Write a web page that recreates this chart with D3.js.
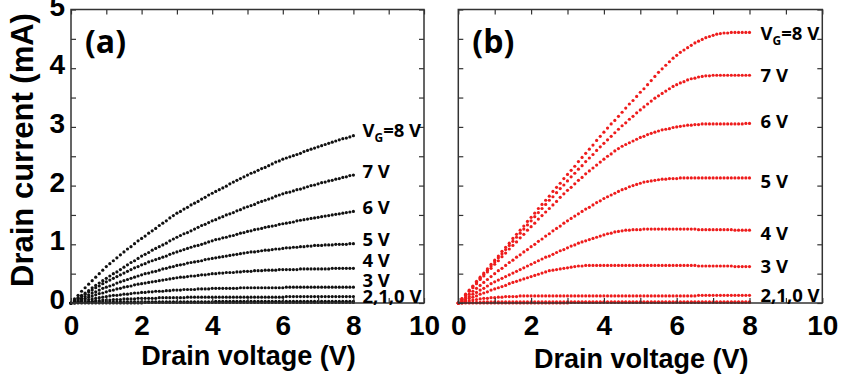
<!DOCTYPE html>
<html>
<head>
<meta charset="utf-8">
<script src="https://cdn.jsdelivr.net/npm/d3@7"></script>
<style>
  body { margin: 0; background: #fff; }
  svg { display: block; }
</style>
</head>
<body>
<svg id="chart" width="842" height="384"></svg>
<script>
// drain voltage sweep (V)
const drainV = [0, 0.1, 0.2, 0.3, 0.4, 0.5, 0.6, 0.7, 0.8, 0.9, 1,
  1.1, 1.2, 1.3, 1.4, 1.5, 1.6, 1.7, 1.8, 1.9, 2,
  2.1, 2.2, 2.3, 2.4, 2.5, 2.6, 2.7, 2.8, 2.9, 3,
  3.1, 3.2, 3.3, 3.4, 3.5, 3.6, 3.7, 3.8, 3.9, 4,
  4.1, 4.2, 4.3, 4.4, 4.5, 4.6, 4.7, 4.8, 4.9, 5,
  5.1, 5.2, 5.3, 5.4, 5.5, 5.6, 5.7, 5.8, 5.9, 6,
  6.1, 6.2, 6.3, 6.4, 6.5, 6.6, 6.7, 6.8, 6.9, 7,
  7.1, 7.2, 7.3, 7.4, 7.5, 7.6, 7.7, 7.8, 7.9, 8];

// panel (a) drain current (mA), one list per gate voltage
const a8 = [0, 0.07, 0.13, 0.20, 0.26, 0.32, 0.38, 0.44, 0.50, 0.56, 0.62,
  0.67, 0.72, 0.77, 0.82, 0.87, 0.92, 0.96, 1.01, 1.06, 1.10,
  1.14, 1.19, 1.23, 1.27, 1.32, 1.36, 1.40, 1.45, 1.49, 1.53,
  1.56, 1.60, 1.63, 1.67, 1.70, 1.73, 1.77, 1.80, 1.84, 1.87,
  1.90, 1.93, 1.96, 1.99, 2.03, 2.06, 2.09, 2.12, 2.15, 2.18,
  2.21, 2.23, 2.26, 2.29, 2.31, 2.34, 2.37, 2.40, 2.42, 2.45,
  2.47, 2.49, 2.51, 2.53, 2.55, 2.58, 2.60, 2.62, 2.64, 2.66,
  2.68, 2.70, 2.72, 2.74, 2.76, 2.78, 2.80, 2.81, 2.83, 2.85];
const a7 = [0, 0.04, 0.09, 0.13, 0.17, 0.21, 0.26, 0.30, 0.34, 0.38, 0.42,
  0.46, 0.50, 0.53, 0.57, 0.61, 0.65, 0.69, 0.72, 0.76, 0.80,
  0.83, 0.86, 0.90, 0.93, 0.96, 0.99, 1.02, 1.06, 1.09, 1.12,
  1.15, 1.18, 1.20, 1.23, 1.26, 1.29, 1.32, 1.34, 1.37, 1.40,
  1.42, 1.45, 1.47, 1.50, 1.52, 1.54, 1.57, 1.59, 1.62, 1.64,
  1.66, 1.68, 1.71, 1.73, 1.75, 1.77, 1.79, 1.82, 1.84, 1.86,
  1.88, 1.89, 1.91, 1.93, 1.94, 1.96, 1.98, 2.00, 2.01, 2.03,
  2.05, 2.06, 2.08, 2.09, 2.11, 2.12, 2.14, 2.15, 2.17, 2.18];
const a6 = [0, 0.04, 0.08, 0.11, 0.15, 0.19, 0.22, 0.26, 0.29, 0.33, 0.36,
  0.39, 0.42, 0.45, 0.48, 0.51, 0.54, 0.57, 0.60, 0.62, 0.65,
  0.67, 0.70, 0.72, 0.74, 0.76, 0.78, 0.80, 0.83, 0.85, 0.87,
  0.89, 0.91, 0.93, 0.95, 0.97, 0.98, 1.00, 1.02, 1.04, 1.06,
  1.08, 1.09, 1.11, 1.12, 1.14, 1.15, 1.17, 1.19, 1.20, 1.22,
  1.23, 1.25, 1.26, 1.27, 1.29, 1.30, 1.31, 1.32, 1.34, 1.35,
  1.36, 1.37, 1.38, 1.40, 1.41, 1.42, 1.43, 1.44, 1.45, 1.46,
  1.47, 1.48, 1.49, 1.50, 1.51, 1.52, 1.53, 1.54, 1.55, 1.56];
const a5 = [0, 0.03, 0.06, 0.08, 0.11, 0.14, 0.17, 0.19, 0.22, 0.25, 0.27,
  0.29, 0.31, 0.34, 0.36, 0.38, 0.40, 0.42, 0.44, 0.46, 0.48,
  0.50, 0.51, 0.53, 0.54, 0.56, 0.58, 0.59, 0.61, 0.62, 0.64,
  0.65, 0.66, 0.68, 0.69, 0.70, 0.71, 0.72, 0.74, 0.75, 0.76,
  0.77, 0.78, 0.79, 0.80, 0.81, 0.82, 0.83, 0.84, 0.85, 0.86,
  0.87, 0.87, 0.88, 0.89, 0.90, 0.90, 0.91, 0.92, 0.92, 0.93,
  0.94, 0.94, 0.95, 0.95, 0.96, 0.96, 0.97, 0.97, 0.98, 0.98,
  0.98, 0.99, 0.99, 0.99, 1.00, 1.00, 1.00, 1.00, 1.01, 1.01];
const a4 = [0, 0.02, 0.04, 0.06, 0.08, 0.10, 0.12, 0.14, 0.16, 0.17, 0.19,
  0.21, 0.22, 0.24, 0.25, 0.27, 0.28, 0.29, 0.31, 0.32, 0.33,
  0.34, 0.35, 0.36, 0.37, 0.38, 0.39, 0.40, 0.41, 0.42, 0.43,
  0.44, 0.44, 0.45, 0.46, 0.46, 0.47, 0.48, 0.48, 0.49, 0.50,
  0.50, 0.51, 0.51, 0.52, 0.52, 0.52, 0.53, 0.53, 0.54, 0.54,
  0.54, 0.55, 0.55, 0.55, 0.56, 0.56, 0.56, 0.56, 0.57, 0.57,
  0.57, 0.57, 0.57, 0.57, 0.58, 0.58, 0.58, 0.58, 0.58, 0.58,
  0.58, 0.58, 0.58, 0.59, 0.59, 0.59, 0.59, 0.59, 0.59, 0.59];
const a3 = [0, 0.01, 0.02, 0.04, 0.05, 0.06, 0.07, 0.08, 0.09, 0.10, 0.11,
  0.12, 0.13, 0.13, 0.14, 0.15, 0.15, 0.16, 0.17, 0.17, 0.18,
  0.18, 0.19, 0.19, 0.20, 0.20, 0.20, 0.21, 0.21, 0.22, 0.22,
  0.22, 0.23, 0.23, 0.23, 0.23, 0.24, 0.24, 0.24, 0.24, 0.25,
  0.25, 0.25, 0.25, 0.25, 0.25, 0.25, 0.25, 0.26, 0.26, 0.26,
  0.26, 0.26, 0.26, 0.26, 0.26, 0.26, 0.26, 0.26, 0.26, 0.26,
  0.27, 0.27, 0.27, 0.27, 0.27, 0.27, 0.27, 0.27, 0.27, 0.27,
  0.27, 0.27, 0.27, 0.27, 0.27, 0.27, 0.27, 0.27, 0.27, 0.27];
const a2 = [0, 0.01, 0.01, 0.02, 0.02, 0.03, 0.03, 0.04, 0.04, 0.05, 0.05,
  0.05, 0.06, 0.06, 0.06, 0.07, 0.07, 0.07, 0.07, 0.08, 0.08,
  0.08, 0.08, 0.08, 0.08, 0.09, 0.09, 0.09, 0.09, 0.09, 0.09,
  0.09, 0.09, 0.10, 0.10, 0.10, 0.10, 0.10, 0.10, 0.10, 0.10,
  0.10, 0.10, 0.10, 0.10, 0.10, 0.10, 0.10, 0.10, 0.10, 0.10,
  0.10, 0.10, 0.10, 0.10, 0.10, 0.10, 0.10, 0.10, 0.10, 0.10,
  0.11, 0.11, 0.11, 0.11, 0.11, 0.11, 0.11, 0.11, 0.11, 0.11,
  0.11, 0.11, 0.11, 0.11, 0.11, 0.11, 0.11, 0.11, 0.11, 0.11];
const a1 = [0, 0.00, 0.01, 0.01, 0.01, 0.01, 0.02, 0.02, 0.02, 0.02, 0.02,
  0.02, 0.02, 0.02, 0.02, 0.02, 0.02, 0.02, 0.02, 0.02, 0.02,
  0.02, 0.02, 0.02, 0.02, 0.02, 0.02, 0.02, 0.02, 0.02, 0.02,
  0.02, 0.02, 0.02, 0.02, 0.02, 0.02, 0.02, 0.02, 0.02, 0.02,
  0.03, 0.03, 0.03, 0.03, 0.03, 0.03, 0.03, 0.03, 0.03, 0.03,
  0.03, 0.03, 0.03, 0.03, 0.03, 0.03, 0.03, 0.03, 0.03, 0.03,
  0.03, 0.03, 0.03, 0.03, 0.03, 0.03, 0.03, 0.03, 0.03, 0.03,
  0.03, 0.03, 0.03, 0.03, 0.03, 0.03, 0.03, 0.03, 0.03, 0.03];
const a0 = [0, 0.00, 0.00, 0.00, 0.00, 0.00, 0.00, 0.00, 0.00, 0.00, 0.00,
  0.00, 0.00, 0.00, 0.00, 0.00, 0.00, 0.00, 0.00, 0.00, 0.00,
  0.01, 0.01, 0.01, 0.01, 0.01, 0.01, 0.01, 0.01, 0.01, 0.01,
  0.01, 0.01, 0.01, 0.01, 0.01, 0.01, 0.01, 0.01, 0.01, 0.01,
  0.01, 0.01, 0.01, 0.01, 0.01, 0.01, 0.01, 0.01, 0.01, 0.01,
  0.01, 0.01, 0.01, 0.01, 0.01, 0.01, 0.01, 0.01, 0.01, 0.01,
  0.01, 0.01, 0.01, 0.01, 0.01, 0.01, 0.01, 0.01, 0.01, 0.01,
  0.01, 0.01, 0.01, 0.01, 0.01, 0.01, 0.01, 0.01, 0.01, 0.01];

// panel (b) drain current (mA)
const b8 = [0, 0.07, 0.15, 0.22, 0.29, 0.37, 0.44, 0.51, 0.58, 0.66, 0.73,
  0.80, 0.88, 0.95, 1.02, 1.10, 1.17, 1.24, 1.31, 1.39, 1.46,
  1.53, 1.61, 1.68, 1.75, 1.82, 1.90, 1.97, 2.04, 2.12, 2.19,
  2.26, 2.33, 2.41, 2.48, 2.55, 2.62, 2.69, 2.77, 2.84, 2.91,
  2.98, 3.05, 3.11, 3.18, 3.25, 3.32, 3.39, 3.45, 3.52, 3.59,
  3.65, 3.72, 3.79, 3.86, 3.93, 3.99, 4.05, 4.11, 4.17, 4.22,
  4.27, 4.31, 4.35, 4.39, 4.43, 4.46, 4.49, 4.52, 4.54, 4.56,
  4.58, 4.59, 4.60, 4.60, 4.61, 4.61, 4.61, 4.61, 4.61, 4.61];
const b7 = [0, 0.07, 0.14, 0.21, 0.28, 0.35, 0.42, 0.49, 0.56, 0.63, 0.70,
  0.77, 0.84, 0.91, 0.98, 1.05, 1.12, 1.19, 1.26, 1.33, 1.40,
  1.47, 1.54, 1.61, 1.68, 1.75, 1.81, 1.88, 1.95, 2.01, 2.08,
  2.15, 2.21, 2.28, 2.34, 2.41, 2.47, 2.53, 2.60, 2.66, 2.72,
  2.78, 2.84, 2.90, 2.96, 3.02, 3.07, 3.13, 3.18, 3.24, 3.29,
  3.34, 3.39, 3.44, 3.49, 3.53, 3.57, 3.61, 3.65, 3.69, 3.72,
  3.75, 3.77, 3.80, 3.82, 3.83, 3.85, 3.86, 3.87, 3.87, 3.88,
  3.88, 3.88, 3.88, 3.88, 3.88, 3.88, 3.88, 3.88, 3.88, 3.88];
const b6 = [0, 0.07, 0.13, 0.20, 0.26, 0.33, 0.40, 0.46, 0.53, 0.59, 0.66,
  0.72, 0.79, 0.85, 0.92, 0.98, 1.04, 1.11, 1.17, 1.24, 1.30,
  1.36, 1.43, 1.49, 1.55, 1.61, 1.67, 1.73, 1.80, 1.86, 1.92,
  1.97, 2.03, 2.09, 2.14, 2.20, 2.25, 2.30, 2.35, 2.40, 2.45,
  2.50, 2.54, 2.59, 2.63, 2.67, 2.70, 2.73, 2.76, 2.79, 2.82,
  2.84, 2.87, 2.89, 2.91, 2.93, 2.95, 2.96, 2.97, 2.99, 3.00,
  3.01, 3.02, 3.03, 3.03, 3.04, 3.04, 3.05, 3.05, 3.05, 3.05,
  3.05, 3.05, 3.05, 3.05, 3.05, 3.05, 3.05, 3.05, 3.06, 3.06];
const b5 = [0, 0.05, 0.10, 0.15, 0.20, 0.25, 0.30, 0.35, 0.40, 0.45, 0.50,
  0.55, 0.59, 0.64, 0.69, 0.73, 0.78, 0.82, 0.87, 0.91, 0.96,
  1.00, 1.05, 1.09, 1.14, 1.18, 1.23, 1.27, 1.31, 1.36, 1.40,
  1.44, 1.48, 1.52, 1.56, 1.60, 1.63, 1.67, 1.71, 1.74, 1.78,
  1.81, 1.84, 1.87, 1.90, 1.93, 1.95, 1.98, 2.00, 2.02, 2.04,
  2.06, 2.07, 2.08, 2.09, 2.10, 2.11, 2.11, 2.12, 2.12, 2.12,
  2.13, 2.13, 2.13, 2.13, 2.13, 2.13, 2.13, 2.13, 2.13, 2.13,
  2.13, 2.13, 2.13, 2.13, 2.13, 2.13, 2.13, 2.13, 2.13, 2.13];
const b4 = [0, 0.04, 0.07, 0.11, 0.15, 0.18, 0.22, 0.25, 0.29, 0.33, 0.36,
  0.39, 0.42, 0.45, 0.48, 0.51, 0.54, 0.57, 0.60, 0.63, 0.66,
  0.69, 0.72, 0.75, 0.78, 0.80, 0.83, 0.86, 0.89, 0.91, 0.94,
  0.97, 0.99, 1.02, 1.04, 1.06, 1.08, 1.10, 1.12, 1.14, 1.16,
  1.18, 1.19, 1.21, 1.22, 1.23, 1.24, 1.24, 1.25, 1.25, 1.25,
  1.26, 1.26, 1.26, 1.26, 1.26, 1.26, 1.26, 1.26, 1.26, 1.26,
  1.26, 1.26, 1.26, 1.26, 1.26, 1.25, 1.25, 1.25, 1.25, 1.25,
  1.25, 1.25, 1.25, 1.25, 1.25, 1.24, 1.24, 1.24, 1.24, 1.24];
const b3 = [0, 0.03, 0.05, 0.08, 0.10, 0.12, 0.15, 0.17, 0.19, 0.22, 0.24,
  0.26, 0.28, 0.30, 0.33, 0.35, 0.37, 0.39, 0.41, 0.43, 0.45,
  0.47, 0.49, 0.51, 0.53, 0.55, 0.56, 0.57, 0.58, 0.59, 0.60,
  0.61, 0.62, 0.63, 0.63, 0.64, 0.64, 0.64, 0.64, 0.64, 0.64,
  0.64, 0.64, 0.64, 0.64, 0.64, 0.64, 0.64, 0.64, 0.64, 0.64,
  0.64, 0.64, 0.64, 0.64, 0.64, 0.64, 0.64, 0.64, 0.64, 0.64,
  0.64, 0.64, 0.64, 0.64, 0.64, 0.63, 0.63, 0.63, 0.63, 0.63,
  0.63, 0.63, 0.63, 0.63, 0.63, 0.62, 0.62, 0.62, 0.62, 0.62];
const b2 = [0, 0.02, 0.03, 0.04, 0.05, 0.06, 0.07, 0.08, 0.08, 0.09, 0.09,
  0.10, 0.10, 0.11, 0.11, 0.11, 0.11, 0.12, 0.12, 0.12, 0.12,
  0.12, 0.12, 0.12, 0.12, 0.12, 0.12, 0.12, 0.12, 0.12, 0.12,
  0.12, 0.12, 0.12, 0.12, 0.12, 0.12, 0.12, 0.12, 0.12, 0.12,
  0.12, 0.12, 0.12, 0.12, 0.12, 0.12, 0.12, 0.12, 0.12, 0.12,
  0.12, 0.12, 0.12, 0.12, 0.12, 0.12, 0.12, 0.12, 0.12, 0.12,
  0.12, 0.12, 0.12, 0.12, 0.12, 0.13, 0.13, 0.13, 0.13, 0.13,
  0.13, 0.13, 0.13, 0.13, 0.13, 0.13, 0.13, 0.13, 0.13, 0.13];
const b1 = [0, 0.00, 0.01, 0.01, 0.01, 0.01, 0.01, 0.02, 0.02, 0.02, 0.02,
  0.02, 0.02, 0.02, 0.02, 0.02, 0.02, 0.02, 0.02, 0.02, 0.02,
  0.02, 0.02, 0.02, 0.02, 0.02, 0.02, 0.02, 0.02, 0.02, 0.02,
  0.02, 0.02, 0.02, 0.02, 0.02, 0.02, 0.02, 0.02, 0.02, 0.02,
  0.02, 0.02, 0.02, 0.02, 0.02, 0.02, 0.02, 0.02, 0.02, 0.02,
  0.02, 0.02, 0.02, 0.02, 0.02, 0.02, 0.02, 0.02, 0.02, 0.02,
  0.02, 0.02, 0.02, 0.02, 0.02, 0.02, 0.02, 0.02, 0.02, 0.02,
  0.02, 0.02, 0.02, 0.02, 0.02, 0.02, 0.02, 0.02, 0.02, 0.02];
const b0 = [0, 0.00, 0.00, 0.00, 0.00, 0.00, 0.00, 0.00, 0.00, 0.00, 0.00,
  0.00, 0.00, 0.00, 0.00, 0.00, 0.00, 0.00, 0.00, 0.00, 0.00,
  0.00, 0.00, 0.00, 0.00, 0.00, 0.00, 0.00, 0.00, 0.00, 0.00,
  0.01, 0.01, 0.01, 0.01, 0.01, 0.01, 0.01, 0.01, 0.01, 0.01,
  0.01, 0.01, 0.01, 0.01, 0.01, 0.01, 0.01, 0.01, 0.01, 0.01,
  0.01, 0.01, 0.01, 0.01, 0.01, 0.01, 0.01, 0.01, 0.01, 0.01,
  0.01, 0.01, 0.01, 0.01, 0.01, 0.01, 0.01, 0.01, 0.01, 0.01,
  0.01, 0.01, 0.01, 0.01, 0.01, 0.01, 0.01, 0.01, 0.01, 0.01];

// curve labels and where they sit (mA)
const gateLabels = ["=8 V", "7 V", "6 V", "5 V", "4 V", "3 V", "2,1,0 V"];
const labelAtA = [2.94, 2.24, 1.63, 1.08, 0.72, 0.38, 0.11];
const labelAtB = [4.60, 3.88, 3.09, 2.07, 1.18, 0.62, 0.13];

// axis ticks
const xTicks = [0, 1, 2, 3, 4, 5, 6, 7, 8, 9, 10];
const yTicks = [0, 0.5, 1, 1.5, 2, 2.5, 3, 3.5, 4, 4.5, 5];

const plotTop = 9.5, plotBottom = 303;

const panels = [
  { tag: "(a)", left: 71, right: 424, color: "#111", r: 1.6, yLabels: true,
    curves: [a8, a7, a6, a5, a4, a3, a2, a1, a0], labelAt: labelAtA,
    labelDx: 9, titleY: 365 },
  { tag: "(b)", left: 458.3, right: 822.3, color: "#ee1c1c", r: 1.6, yLabels: false,
    curves: [b8, b7, b6, b5, b4, b3, b2, b1, b0], labelAt: labelAtB,
    labelDx: 11, titleY: 368 }
];

const svg = d3.select("#chart");
const axisFont = "'Liberation Sans', Arial, sans-serif";
const labelFont = "'Open Sans', sans-serif";

panels.forEach(p => {
  const x = d3.scaleLinear().domain([0, 10]).range([p.left, p.right]);
  const y = d3.scaleLinear().domain([0, 5]).range([plotBottom, plotTop]);
  const g = svg.append("g");

  // dots
  p.curves.forEach(curve => {
    g.append("g")
      .selectAll("circle")
      .data(drainV.map((v, i) => [v, curve[i]]))
      .join("circle")
      .attr("cx", d => x(d[0]))
      .attr("cy", d => y(d[1]))
      .attr("r", p.r)
      .attr("fill", p.color);
  });

  // axes, ticks inward
  g.append("g")
    .attr("transform", `translate(0,${plotBottom})`)
    .call(d3.axisBottom(x).tickValues(xTicks).tickSize(-5).tickPadding(12)
      .tickFormat(d => d % 2 ? "" : d));
  g.append("g")
    .attr("transform", `translate(0,${plotTop})`)
    .call(d3.axisTop(x).tickValues(xTicks).tickSize(-5).tickFormat(""));
  const leftAxis = g.append("g")
    .attr("transform", `translate(${p.left},0)`)
    .call(d3.axisLeft(y).tickValues(yTicks).tickSize(-5).tickPadding(6)
      .tickFormat(d => p.yLabels && Number.isInteger(d) ? d : ""));
  g.append("g")
    .attr("transform", `translate(${p.right},0)`)
    .call(d3.axisRight(y).tickValues(yTicks).tickSize(-5).tickFormat(""));

  g.selectAll(".domain").remove();
  g.selectAll(".tick line").attr("stroke", "#333").attr("stroke-width", 1.2);
  g.selectAll(".tick text")
    .attr("font-family", axisFont)
    .attr("font-size", 28)
    .attr("font-weight", "bold")
    .attr("fill", "#000");
  leftAxis.selectAll(".tick text").attr("dy", "0.2em");

  g.append("rect")
    .attr("x", p.left).attr("y", plotTop)
    .attr("width", p.right - p.left).attr("height", plotBottom - plotTop)
    .attr("fill", "none")
    .attr("stroke", "#333")
    .attr("stroke-width", 1.5);

  // panel tag
  g.append("text")
    .attr("x", p.left + 14).attr("y", 53)
    .attr("font-family", labelFont)
    .attr("font-weight", "bold")
    .attr("font-size", 32)
    .text(p.tag);

  // gate voltage labels
  gateLabels.forEach((lab, i) => {
    const t = g.append("text")
      .attr("x", x(8) + p.labelDx)
      .attr("y", y(p.labelAt[i]))
      .attr("dy", "0.36em")
      .attr("font-family", labelFont)
      .attr("font-weight", "bold")
      .attr("font-size", 18.5)
      .attr("fill", "#000");
    if (i === 0) {
      t.append("tspan").text("V");
      t.append("tspan").attr("font-size", 12).attr("dy", 5).text("G");
      t.append("tspan").attr("dy", -5).text(lab);
    } else {
      t.text(lab);
    }
  });

  // x title
  g.append("text")
    .attr("x", (p.left + p.right) / 2 + 1)
    .attr("y", p.titleY)
    .attr("text-anchor", "middle")
    .attr("font-family", axisFont)
    .attr("font-weight", "bold")
    .attr("font-size", 27)
    .text("Drain voltage (V)");
});

// y title
svg.append("text")
  .attr("transform", "translate(33,150) rotate(-90)")
  .attr("text-anchor", "middle")
  .attr("font-family", axisFont)
  .attr("font-weight", "bold")
  .attr("font-size", 31)
  .text("Drain current (mA)");
</script>
</body>
</html>
